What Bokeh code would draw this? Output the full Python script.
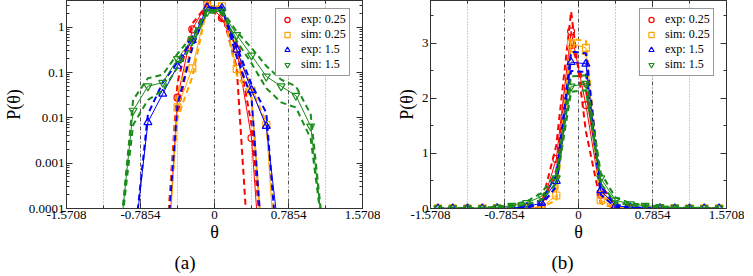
from bokeh.plotting import figure
from bokeh.layouts import row
from bokeh.models import (FixedTicker, CustomJSTickFormatter, Span, Legend, LegendItem,
                          Title, LinearAxis, LogAxis, Range1d)
from bokeh.embed import file_html
from bokeh.resources import INLINE

# ---------------- data ----------------
THETA = [-1.4923, -1.3352, -1.1781, -1.0210, -0.8639, -0.7069, -0.5498, -0.3927, -0.2356, -0.0785,
         0.0785, 0.2356, 0.3927, 0.5498, 0.7069, 0.8639, 1.0210, 1.1781, 1.3352, 1.4923]

X_TICKS = [-1.5708, -0.7854, 0.0, 0.7854, 1.5708]
X_MINOR = [-1.1781, -0.3927, 0.3927, 1.1781]
GRID_DOTTED = [-1.1781, -0.3927, 0.3927, 1.1781]
GRID_DASHDOT = [-0.7854, 0.0, 0.7854]
LOG_TICKS = [0.0001, 0.001, 0.01, 0.1, 1]
LOG_MINOR = [0.0002, 0.0003, 0.0004, 0.0005, 0.0006, 0.0007, 0.0008, 0.0009,
             0.002, 0.003, 0.004, 0.005, 0.006, 0.007, 0.008, 0.009,
             0.02, 0.03, 0.04, 0.05, 0.06, 0.07, 0.08, 0.09,
             0.2, 0.3, 0.4, 0.5, 0.6, 0.7, 0.8, 0.9, 2, 3]
LIN_TICKS = [0, 1, 2, 3]
LIN_MINOR = [0.5, 1.5, 2.5, 3.5]

LABELS = ["exp: 0.25", "sim: 0.25", "exp: 1.5", "sim: 1.5"]
COLORS = ["#ff0000", "#ffa500", "#0000ff", "#1a8c1a"]
MARKERS = ["circle", "square", "triangle", "inverted_triangle"]

T = 1e-7  # practically zero (below the log axis)

# panel (a): log scale
A_EXP025_VAL = [T, T, T, T, T, T, T, 0.028, 0.9, 3.4, 1.6, 0.33, 0.0036, T, T, T, T, T, T, T]
A_EXP025_D1 = [T, T, T, T, T, T, 1e-6, 0.012, 0.5, 3.6, 2.1, 0.13, 1e-6, T, T, T, T, T, T, T]
A_EXP025_D2 = [T, T, T, T, T, T, 1e-6, 0.06, 1.2, 3.1, 1.4, 0.45, 0.007, 1e-6, T, T, T, T, T, T]

A_SIM025_VAL = [T, T, T, T, T, T, T, 0.017, 0.124, 3.0, 2.9, 0.12, 0.04, 0.007, T, T, T, T, T, T]
A_SIM025_D1 = [T, T, T, T, T, T, 1e-6, 0.035, 0.35, 3.1, 2.7, 0.33, 0.045, 0.008, 1e-6, T, T, T, T, T]
A_SIM025_D2 = [T, T, T, T, T, T, 1e-6, 0.01, 0.08, 2.8, 3.0, 0.09, 0.028, 1e-6, T, T, T, T, T, T]

A_EXP15_VAL = [T, T, T, T, 1e-5, 0.008, 0.034, 0.14, 0.52, 2.7, 2.65, 0.32, 0.041, 0.0066, 1e-5, T, T, T, T, T]
A_EXP15_D1 = [T, T, T, T, 1e-5, 0.012, 0.06, 0.17, 0.55, 2.8, 2.6, 0.38, 0.055, 0.013, 1e-6, T, T, T, T, T]
A_EXP15_D2 = [T, T, T, T, T, T, 1e-6, 0.02, 0.35, 2.5, 2.8, 0.22, 0.028, 1e-6, T, T, T, T, T, T]

A_SIM15_VAL = [T, T, T, 1e-5, 0.0145, 0.05, 0.06, 0.2, 0.55, 2.2, 2.25, 0.68, 0.24, 0.082, 0.05, 0.031, 0.0065, 1e-5, T, T]
A_SIM15_D1 = [T, T, T, 1e-5, 0.025, 0.075, 0.09, 0.26, 0.65, 2.4, 2.4, 0.8, 0.35, 0.14, 0.07, 0.05, 0.012, 1e-5, T, T]
A_SIM15_D2 = [T, T, T, 1e-5, 0.007, 0.025, 0.04, 0.13, 0.42, 2.1, 2.1, 0.5, 0.16, 0.045, 0.022, 0.017, 0.0035, 1e-5, T, T]

# panel (b): linear scale
B_EXP025_VAL = [0, 0, 0, 0, 0, 0.002, 0.005, 0.02, 0.9, 3.22, 1.88, 0.25, 0.005, 0.002, 0, 0, 0, 0, 0, 0]
B_EXP025_D1 = [0, 0, 0, 0, 0, 0, 0.01, 0.08, 1.15, 3.58, 1.4, 0.1, 0.0, 0, 0, 0, 0, 0, 0, 0]
B_EXP025_D2 = [0, 0, 0, 0, 0, 0, 0.005, 0.04, 0.7, 3.0, 2.15, 0.45, 0.03, 0, 0, 0, 0, 0, 0, 0]

B_SIM025_VAL = [0.003, 0.003, 0.003, 0.003, 0.005, 0.005, 0.01, 0.03, 0.236, 3.0, 2.92, 0.15, 0.02, 0.005, 0.005, 0.003, 0.003, 0.003, 0.003, 0.003]
B_SIM025_D1 = [0, 0, 0, 0, 0.005, 0.01, 0.03, 0.08, 0.35, 3.08, 3.05, 0.3, 0.04, 0.01, 0.005, 0, 0, 0, 0, 0]
B_SIM025_D2 = [0, 0, 0, 0, 0, 0.005, 0.01, 0.02, 0.15, 2.85, 2.8, 0.1, 0.01, 0.005, 0, 0, 0, 0, 0, 0]

B_EXP15_VAL = [0.003, 0.003, 0.003, 0.003, 0.005, 0.01, 0.03, 0.1, 0.5, 2.66, 2.63, 0.33, 0.05, 0.02, 0.01, 0.005, 0.003, 0.003, 0.003, 0.003]
B_EXP15_D1 = [0, 0, 0, 0, 0.01, 0.02, 0.04, 0.15, 0.6, 2.85, 2.82, 0.4, 0.07, 0.03, 0.01, 0.005, 0, 0, 0, 0]
B_EXP15_D2 = [0, 0, 0, 0, 0.003, 0.01, 0.02, 0.07, 0.4, 2.5, 2.48, 0.25, 0.03, 0.01, 0.005, 0, 0, 0, 0, 0]

B_SIM15_VAL = [0.005, 0.005, 0.005, 0.008, 0.02, 0.05, 0.1, 0.22, 0.55, 2.22, 2.27, 0.55, 0.15, 0.08, 0.05, 0.03, 0.02, 0.01, 0.008, 0.005]
B_SIM15_D1 = [0.005, 0.005, 0.008, 0.015, 0.03, 0.07, 0.13, 0.28, 0.65, 2.4, 2.42, 0.65, 0.2, 0.1, 0.06, 0.04, 0.025, 0.015, 0.01, 0.005]
B_SIM15_D2 = [0.002, 0.002, 0.003, 0.005, 0.01, 0.03, 0.07, 0.16, 0.45, 2.12, 2.15, 0.45, 0.11, 0.06, 0.035, 0.02, 0.012, 0.008, 0.005, 0.002]

PANEL_A = [(A_EXP025_VAL, A_EXP025_D1, A_EXP025_D2),
           (A_SIM025_VAL, A_SIM025_D1, A_SIM025_D2),
           (A_EXP15_VAL, A_EXP15_D1, A_EXP15_D2),
           (A_SIM15_VAL, A_SIM15_D1, A_SIM15_D2)]
PANEL_B = [(B_EXP025_VAL, B_EXP025_D1, B_EXP025_D2),
           (B_SIM025_VAL, B_SIM025_D1, B_SIM025_D2),
           (B_EXP15_VAL, B_EXP15_D1, B_EXP15_D2),
           (B_SIM15_VAL, B_SIM15_D1, B_SIM15_D2)]

SERIF = "Liberation Serif"
FRAME_COLOR = "#333333"
FW, FH = 296, 208
LEG_W, LEG_H = 73, 76


def style_axis(ax, ticker, formatter=None, show_labels=True):
    ax.ticker = ticker
    if formatter is not None:
        ax.formatter = formatter
    ax.axis_line_color = FRAME_COLOR
    ax.major_tick_line_color = FRAME_COLOR
    ax.minor_tick_line_color = FRAME_COLOR
    ax.major_tick_in = 6
    ax.major_tick_out = 0
    ax.minor_tick_in = 3
    ax.minor_tick_out = 0
    ax.major_label_text_font = SERIF
    ax.major_label_text_color = "#000000"
    ax.major_label_text_font_size = "13px"
    ax.major_label_standoff = 2
    if not show_labels:
        ax.major_label_text_font_size = "1px"
        ax.major_label_text_alpha = 0.0
        ax.major_label_standoff = 0


def make_panel(series, log, caption, border_left, border_right, cap_offset):
    if log:
        p = figure(frame_width=FW, frame_height=FH, y_axis_type="log",
                   x_range=Range1d(-1.5708, 1.5708), y_range=Range1d(0.0001, 3.9),
                   output_backend="svg", toolbar_location=None,
                   min_border_left=border_left, min_border_right=border_right,
                   min_border_top=0, min_border_bottom=52)
        yticker = FixedTicker(ticks=LOG_TICKS, minor_ticks=LOG_MINOR)
    else:
        p = figure(frame_width=FW, frame_height=FH,
                   x_range=Range1d(-1.5708, 1.5708), y_range=Range1d(0, 3.78),
                   output_backend="svg", toolbar_location=None,
                   min_border_left=border_left, min_border_right=border_right,
                   min_border_top=0, min_border_bottom=52)
        yticker = FixedTicker(ticks=LIN_TICKS, minor_ticks=LIN_MINOR)
    xticker = FixedTicker(ticks=X_TICKS, minor_ticks=X_MINOR)
    fmt = CustomJSTickFormatter(code="return tick.toString();")

    p.xgrid.visible = False
    p.ygrid.visible = False
    p.outline_line_color = FRAME_COLOR
    p.background_fill_color = "white"
    p.border_fill_color = "white"

    style_axis(p.xaxis[0], xticker, fmt)
    style_axis(p.yaxis[0], yticker, fmt)
    p.xaxis.axis_label = "θ"
    p.yaxis.axis_label = "P(θ)"
    for ax in (p.xaxis[0], p.yaxis[0]):
        ax.axis_label_text_font = SERIF
        ax.axis_label_text_font_style = "normal"
        ax.axis_label_text_font_size = "18px"
        ax.axis_label_text_color = "#000000"
    p.xaxis.axis_label_standoff = 0
    p.yaxis.axis_label_standoff = 2

    top = LinearAxis()
    style_axis(top, xticker, fmt, show_labels=False)
    p.add_layout(top, "above")
    right = LogAxis() if log else LinearAxis()
    style_axis(right, yticker, fmt, show_labels=False)
    p.add_layout(right, "right")

    for v in GRID_DOTTED:
        p.add_layout(Span(location=v, dimension="height", line_color="#9a9a9a",
                          line_dash="1 2", line_width=1, level="underlay"))
    for v in GRID_DASHDOT:
        p.add_layout(Span(location=v, dimension="height", line_color="#555555",
                          line_dash="4 2 1 2", line_width=1, level="underlay"))

    items = []
    for (val, d1, d2), label, color, marker in zip(series, LABELS, COLORS, MARKERS):
        p.line(THETA, d1, line_color=color, line_width=2, line_dash="6 4")
        p.line(THETA, d2, line_color=color, line_width=2, line_dash="6 4")
        p.line(THETA, val, line_color=color, line_width=1)
        r = p.scatter(THETA, val, marker=marker, size=7 if marker in ("circle", "square") else 8,
                      line_color=color, fill_color="white", fill_alpha=0.0, line_width=1.2)
        items.append(LegendItem(label=label, renderers=[r]))

    leg = Legend(items=items, location=(FW - 14 - LEG_W, FH - LEG_H))
    leg.label_text_font = SERIF
    leg.label_text_font_size = "12px"
    leg.label_text_color = "#000000"
    leg.label_height = 13
    leg.glyph_height = 13
    leg.glyph_width = 16
    leg.label_standoff = 6
    leg.spacing = 0
    leg.padding = 3
    leg.margin = 0
    leg.border_line_color = FRAME_COLOR
    leg.border_line_width = 1
    leg.background_fill_color = "white"
    leg.background_fill_alpha = 1.0
    p.add_layout(leg, "center")

    cap = Title(text=caption, align="left", offset=cap_offset, text_font=SERIF,
                text_font_size="19px", text_font_style="normal", text_color="#000000")
    p.add_layout(cap, "below")
    return p


pa = make_panel(PANEL_A, True, "(a)", 58, 18, 108)
pb = make_panel(PANEL_B, False, "(b)", 50, 18, 121)

layout = row(pa, pb, spacing=0)
open("out.html", "w").write(file_html(layout, INLINE))
